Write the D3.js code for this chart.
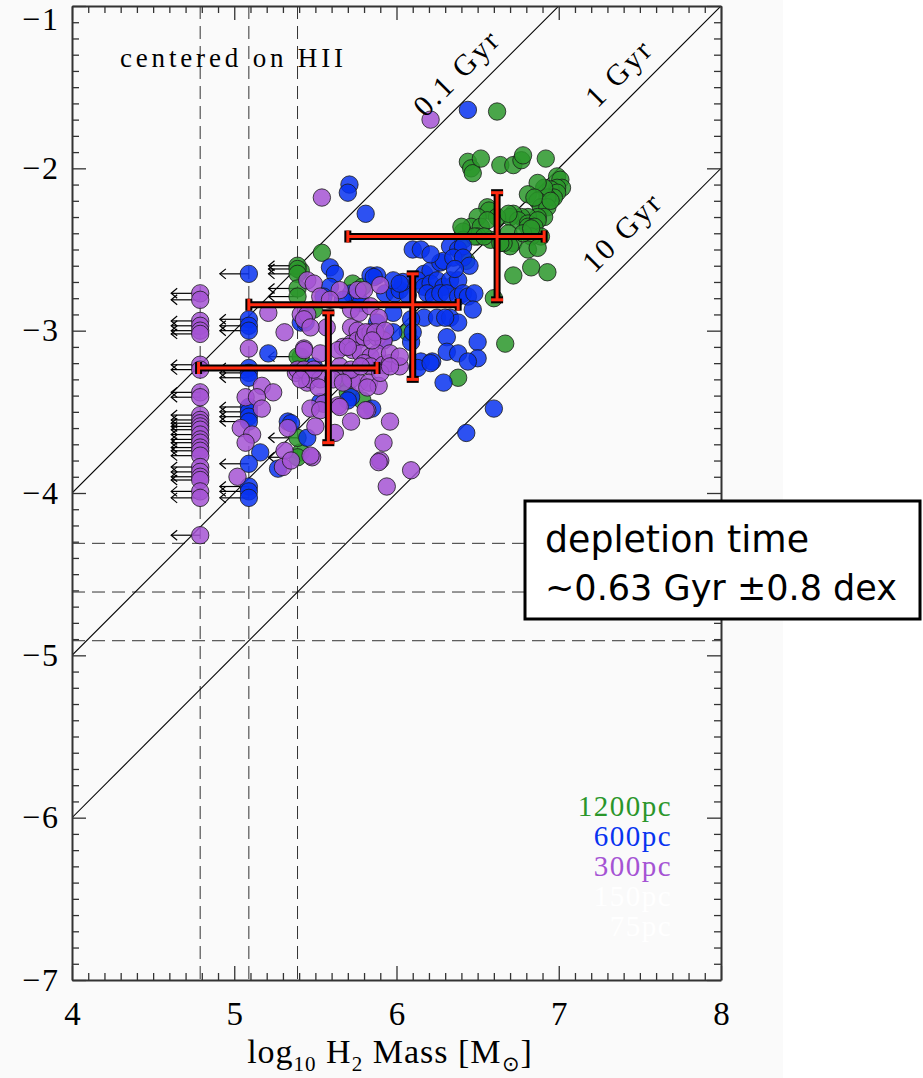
<!DOCTYPE html>
<html>
<head>
<meta charset="utf-8">
<script src="https://cdn.jsdelivr.net/npm/d3@7"></script>
<style>
  body { margin: 0; background: #ffffff; }
  svg { display: block; }
</style>
</head>
<body>
<svg id="chart" width="923" height="1078"></svg>
<script>
// ---- data (log10 H2 mass, log10 SFR) ----
var pts1200 = [
  [6.62,-1.65],[6.44,-1.96],[6.46,-2.00],[6.47,-2.03],[6.52,-1.94],[6.64,-1.98],[6.72,-1.98],[6.77,-1.95],[6.78,-1.92],[6.92,-1.94],
  [6.99,-2.05],[7.01,-2.07],[7.02,-2.12],[6.99,-2.12],[6.95,-2.13],[6.99,-2.15],[6.97,-2.18],[6.93,-2.18],[6.91,-2.12],[6.87,-2.09],
  [6.81,-2.16],[6.87,-2.20],[6.89,-2.24],[6.93,-2.24],[6.91,-2.30],[6.87,-2.30],[6.81,-2.30],[6.77,-2.30],[6.72,-2.28],[6.70,-2.30],
  [6.75,-2.32],[6.56,-2.24],[6.57,-2.26],[6.62,-2.30],[6.69,-2.28],[6.81,-2.34],[6.87,-2.32],[6.50,-2.30],[6.46,-2.36],[6.52,-2.36],
  [6.50,-2.42],[6.56,-2.32],[6.58,-2.44],[6.69,-2.40],[6.72,-2.46],[6.70,-2.48],[6.66,-2.46],[6.81,-2.36],[6.85,-2.36],[6.89,-2.42],
  [6.83,-2.42],[6.81,-2.50],[6.87,-2.49],[6.72,-2.66],[6.83,-2.61],[6.93,-2.64],[6.60,-2.80],[6.41,-2.39],[6.41,-2.44],[6.43,-2.57],
  [6.48,-2.42],[6.54,-2.42],[6.64,-2.46],[6.78,-2.40],[6.83,-2.37],[6.67,-3.08],[6.38,-3.29],[5.54,-2.52],[5.73,-2.71],[5.79,-2.73],
  [5.49,-2.87],[5.67,-3.29],[5.70,-3.38],[5.79,-3.43],[6.07,-3.01],[5.41,-3.16],[5.41,-3.75],[5.41,-2.63],[6.40,-2.36],[6.85,-2.18],
  [6.95,-2.20]
];
var pts600 = [
  [5.71,-2.10],[5.70,-2.15],[5.81,-2.28],[5.59,-2.61],[5.62,-2.65],[5.84,-2.66],[5.88,-2.66],[6.10,-2.50],[6.15,-2.50],[5.59,-2.73],
  [5.41,-2.95],[5.44,-2.95],[5.72,-2.77],[5.76,-2.79],[5.93,-2.77],[5.99,-2.77],[6.02,-2.75],[6.07,-2.78],[6.04,-2.70],[6.17,-2.65],
  [6.21,-2.63],[6.27,-2.58],[6.29,-2.57],[6.33,-2.48],[6.38,-2.50],[6.41,-2.48],[6.35,-2.55],[6.41,-2.55],[6.13,-2.69],[6.17,-2.73],
  [6.21,-2.71],[6.25,-2.69],[6.29,-2.73],[6.33,-2.69],[6.38,-2.69],[6.19,-2.77],[6.23,-2.79],[6.27,-2.77],[6.31,-2.77],[6.38,-2.79],
  [6.41,-2.77],[6.44,-2.79],[6.48,-2.77],[6.17,-2.92],[6.25,-2.92],[6.33,-2.92],[6.38,-2.95],[6.47,-2.87],[6.09,-2.93],[6.09,-3.07],
  [6.31,-3.04],[6.50,-3.07],[6.31,-3.13],[6.38,-3.14],[6.50,-3.17],[6.44,-3.19],[6.15,-3.19],[6.22,-3.19],[6.13,-3.23],[6.29,-3.32],
  [5.98,-2.89],[5.88,-2.95],[5.98,-3.01],[6.10,-3.01],[5.92,-3.06],[5.55,-2.79],[5.67,-2.81],[5.72,-3.41],[5.85,-3.48],[5.45,-3.66],
  [6.60,-3.48],[6.43,-3.63],[5.86,-2.67],[6.21,-3.20],[5.21,-3.14],[5.33,-3.56],[5.16,-3.75],[5.53,-3.44],[5.70,-3.43],[5.35,-3.57],
  [5.27,-3.85],[5.49,-3.22],[6.44,-1.64],[6.21,-2.53],[5.98,-2.69],[6.02,-2.71],[5.78,-2.83],[6.30,-2.92],[6.45,-2.60],[6.36,-2.62]
];
var pts300 = [
  [6.21,-1.70],[5.54,-2.18],[5.21,-2.89],[5.31,-3.01],[5.09,-3.11],[5.43,-3.11],[5.38,-3.26],[5.45,-3.32],[5.17,-3.34],[5.24,-3.38],
  [5.07,-3.41],[5.14,-3.41],[5.17,-3.48],[5.04,-3.60],[5.11,-3.64],[5.07,-3.69],[5.33,-3.60],[5.31,-3.74],[5.30,-3.84],[5.02,-3.90],
  [5.45,-2.69],[5.49,-2.71],[5.41,-2.90],[5.45,-2.90],[5.57,-2.98],[5.65,-2.75],[5.76,-2.75],[5.80,-2.75],[5.90,-2.72],[5.72,-2.98],
  [5.76,-3.00],[5.67,-3.10],[5.72,-3.08],[5.76,-3.06],[5.80,-3.04],[5.84,-3.01],[5.88,-3.04],[5.92,-3.06],[5.64,-3.12],[5.73,-3.12],
  [5.78,-3.14],[5.84,-3.16],[5.88,-3.14],[5.80,-3.20],[5.84,-3.22],[5.92,-3.21],[5.96,-3.20],[6.02,-3.22],[5.53,-3.14],[5.39,-3.24],
  [5.43,-3.24],[5.47,-3.30],[5.53,-3.30],[5.72,-3.30],[5.77,-3.32],[5.83,-3.32],[5.89,-3.34],[5.52,-3.35],[5.55,-3.45],[5.64,-3.46],
  [5.47,-3.48],[5.53,-3.49],[5.72,-3.56],[5.96,-3.56],[5.82,-3.49],[5.92,-3.69],[5.90,-3.80],[6.09,-3.86],[5.48,-3.78],[5.35,-3.80],
  [5.94,-3.96],[5.53,-2.79],[5.59,-2.81],[5.72,-2.87],[5.77,-2.89],[5.84,-2.85],[5.89,-2.92],[5.81,-3.01],[5.87,-3.01],[5.93,-3.00],
  [5.43,-2.93],[5.47,-2.98],[5.70,-3.10],[5.85,-3.06],[5.96,-3.14],[6.02,-3.16],[5.65,-3.22],[5.72,-3.24],[5.78,-3.22],[5.90,-3.26],
  [5.96,-3.22],[5.49,-3.24],[5.61,-3.30],[5.67,-3.32],[5.82,-3.35],[5.43,-3.12],[5.41,-3.30],[5.65,-3.47],[5.81,-3.49],[5.50,-3.59],
  [5.62,-3.63],[5.47,-3.77],[5.89,-3.81]
];

// upper limits in mass (arrows), one column per resolution
var limMass = [5.39, 5.09, 4.79];
var lim1200Y = [-2.60,-2.62,-2.65,-2.74,-2.79,-3.16,-3.66,-3.78];
var lim600Y = [-2.65,-2.93,-2.97,-3.00,-3.23,-3.26,-3.29,-3.47,-3.50,-3.53,-3.56,-3.82,-3.96,-3.99,-4.03];
var lim300Y = [-2.77,-2.81,-2.94,-2.97,-3.00,-3.02,-3.21,-3.24,-3.38,-3.41,-3.52,-3.55,-3.57,-3.59,-3.61,-3.64,
               -3.67,-3.69,-3.72,-3.74,-3.77,-3.84,-3.87,-3.90,-3.92,-3.99,-4.03,-4.26];

// sensitivity limits (dashed)
var sfrLimits = [-4.31, -4.61, -4.91];

// binned medians with scatter
var binX = [5.58, 6.10, 6.62];
var binY = [-3.23, -2.84, -2.42];
var binXlo = [4.78, 5.09, 5.70];
var binXhi = [5.88, 6.38, 6.91];
var binYlo = [-3.69, -3.30, -2.81];
var binYhi = [-2.89, -2.65, -2.15];

// depletion time lines (Gyr)
var tdep = [0.1, 1, 10];
var tdepLabels = ["0.1 Gyr", "1 Gyr", "10 Gyr"];
var tdepLabelX = [6.48, 7.48, 7.50];

var xTicks = [4, 5, 6, 7, 8];
var yTicks = [-1, -2, -3, -4, -5, -6, -7];

var legendNames = ["1200pc", "600pc", "300pc", "150pc", "75pc"];
var legendColors = ["#2a962a", "#0833f0", "#a553d4", "#ffffff", "#ffffff"];

// ---- chart ----
var svg = d3.select("#chart");
var mLeft = 72, mRight = 721, mTop = 6, mBottom = 980;

var x = d3.scaleLinear().domain([4, 8]).range([mLeft, mRight]);
var y = d3.scaleLinear().domain([-7, -1]).range([mBottom, mTop]);

svg.append("rect").attr("width", 923).attr("height", 1078).attr("fill", "#ffffff");
svg.append("rect").attr("width", 783).attr("height", 1078).attr("fill", "#fafafa");

svg.append("clipPath").attr("id", "plotclip")
  .append("rect").attr("x", mLeft).attr("y", mTop)
  .attr("width", mRight - mLeft).attr("height", mBottom - mTop);

var plot = svg.append("g").attr("clip-path", "url(#plotclip)");

// dashed completeness lines
plot.selectAll(".vdash").data(limMass).enter().append("line")
  .attr("x1", d => x(d)).attr("x2", d => x(d))
  .attr("y1", mTop).attr("y2", mBottom)
  .attr("stroke", "#333").attr("stroke-width", 1)
  .attr("stroke-dasharray", "13,7");

plot.selectAll(".hdash").data(sfrLimits).enter().append("line")
  .attr("x1", mLeft).attr("x2", mRight)
  .attr("y1", d => y(d)).attr("y2", d => y(d))
  .attr("stroke", "#333").attr("stroke-width", 1)
  .attr("stroke-dasharray", "13,7");

// constant depletion time lines
plot.selectAll(".tdep").data(tdep).enter().append("line")
  .attr("x1", x(4)).attr("x2", x(8))
  .attr("y1", d => y(4 - 9 - Math.log10(d)))
  .attr("y2", d => y(8 - 9 - Math.log10(d)))
  .attr("stroke", "#000").attr("stroke-width", 1.1);

tdep.forEach(function(t, i) {
  var lx = tdepLabelX[i];
  var px = x(lx), py = y(lx - 9 - Math.log10(t));
  svg.append("text")
    .attr("transform", "translate(" + px + "," + py + ") rotate(-45)")
    .attr("text-anchor", "middle")
    .attr("dy", -15)
    .attr("font-family", "Liberation Serif, serif")
    .attr("font-size", 30)
    .attr("letter-spacing", 2.5)
    .attr("fill", "#000")
    .text(tdepLabels[i]);
});

// points + limit arrows
var series = [
  { pts: pts1200, lim: lim1200Y, limX: limMass[0], color: legendColors[0] },
  { pts: pts600, lim: lim600Y, limX: limMass[1], color: legendColors[1] },
  { pts: pts300, lim: lim300Y, limX: limMass[2], color: legendColors[2] }
];
var r = 8.7;

series.forEach(function(s) {
  var g = plot.append("g");
  s.lim.forEach(function(v) {
    var cx = x(s.limX), cy = y(v), tip = cx - 29;
    g.append("line").attr("x1", cx).attr("x2", tip).attr("y1", cy).attr("y2", cy)
      .attr("stroke", "#000").attr("stroke-width", 1.2);
    g.append("path")
      .attr("d", "M" + (tip + 6) + "," + (cy - 5) + "L" + tip + "," + cy + "L" + (tip + 6) + "," + (cy + 5))
      .attr("fill", "none").attr("stroke", "#000").attr("stroke-width", 1.2);
  });
  var all = s.pts.concat(s.lim.map(function(v) { return [s.limX, v]; }));
  g.selectAll("circle").data(all).enter().append("circle")
    .attr("cx", d => x(d[0])).attr("cy", d => y(d[1]))
    .attr("r", r)
    .attr("fill", s.color).attr("fill-opacity", 0.85)
    .attr("stroke", "#1a1a1a").attr("stroke-opacity", 0.8).attr("stroke-width", 1);
});

// binned error crosses
function bar(x1, y1, x2, y2) {
  plot.append("line").attr("x1", x1).attr("y1", y1).attr("x2", x2).attr("y2", y2)
    .attr("stroke", "#000").attr("stroke-width", 7);
}
function barRed(x1, y1, x2, y2) {
  plot.append("line").attr("x1", x1).attr("y1", y1).attr("x2", x2).attr("y2", y2)
    .attr("stroke", "#ff2a10").attr("stroke-width", 3);
}
binX.forEach(function(bx, i) {
  var cx = x(bx), cy = y(binY[i]);
  var xl = x(binXlo[i]), xh = x(binXhi[i]), yl = y(binYlo[i]), yh = y(binYhi[i]);
  var c = 6;
  var segs = [
    [xl, cy, xh, cy], [cx, yl, cx, yh],
    [xl, cy - c, xl, cy + c], [xh, cy - c, xh, cy + c],
    [cx - c, yl, cx + c, yl], [cx - c, yh, cx + c, yh]
  ];
  segs.forEach(function(sg) { bar(sg[0], sg[1], sg[2], sg[3]); });
  segs.forEach(function(sg) { barRed(sg[0], sg[1], sg[2], sg[3]); });
});

// axes: ticks inward on all four sides
var xMinor = d3.range(40, 81).map(d => d / 10).filter(d => d % 1 !== 0);
var yMinor = d3.range(-70, -9).map(d => d / 10).filter(d => d % 1 !== 0);

function styleAxis(g) {
  g.selectAll("line").attr("stroke", "#333").attr("stroke-width", 1.3);
  g.selectAll(".domain").attr("stroke", "#333").attr("stroke-width", 2);
}

var axB = svg.append("g").attr("transform", "translate(0," + mBottom + ")")
  .call(d3.axisBottom(x).tickValues(xTicks).tickSizeInner(-14).tickSizeOuter(0).tickPadding(22).tickFormat(d3.format("d")));
axB.selectAll("text").attr("font-family", "Liberation Serif, serif").attr("font-size", 33).attr("fill", "#000");
styleAxis(axB);
svg.append("g").attr("transform", "translate(0," + mBottom + ")")
  .call(d3.axisBottom(x).tickValues(xMinor).tickSizeInner(-7).tickSizeOuter(0).tickFormat(""))
  .call(styleAxis).select(".domain").remove();

var axT = svg.append("g").attr("transform", "translate(0," + mTop + ")")
  .call(d3.axisTop(x).tickValues(xTicks).tickSizeInner(-14).tickSizeOuter(0).tickFormat(""));
styleAxis(axT);
svg.append("g").attr("transform", "translate(0," + mTop + ")")
  .call(d3.axisTop(x).tickValues(xMinor).tickSizeInner(-7).tickSizeOuter(0).tickFormat(""))
  .call(styleAxis).select(".domain").remove();

var axL = svg.append("g").attr("transform", "translate(" + mLeft + ",0)")
  .call(d3.axisLeft(y).tickValues(yTicks).tickSizeInner(-14).tickSizeOuter(0).tickPadding(12).tickFormat(d3.format("d")));
axL.selectAll("text").attr("font-family", "Liberation Serif, serif").attr("font-size", 32)
  .attr("letter-spacing", 2).attr("fill", "#000");
axL.selectAll(".tick").filter(d => d === -1).select("text").attr("dy", "0.72em");
styleAxis(axL);
svg.append("g").attr("transform", "translate(" + mLeft + ",0)")
  .call(d3.axisLeft(y).tickValues(yMinor).tickSizeInner(-7).tickSizeOuter(0).tickFormat(""))
  .call(styleAxis).select(".domain").remove();

var axR = svg.append("g").attr("transform", "translate(" + mRight + ",0)")
  .call(d3.axisRight(y).tickValues(yTicks).tickSizeInner(-14).tickSizeOuter(0).tickFormat(""));
styleAxis(axR);
svg.append("g").attr("transform", "translate(" + mRight + ",0)")
  .call(d3.axisRight(y).tickValues(yMinor).tickSizeInner(-7).tickSizeOuter(0).tickFormat(""))
  .call(styleAxis).select(".domain").remove();

// x axis title
var xt = svg.append("text")
  .attr("x", 390).attr("y", 1063)
  .attr("text-anchor", "middle")
  .attr("font-family", "Liberation Serif, serif")
  .attr("font-size", 34)
  .attr("letter-spacing", 1)
  .attr("fill", "#000");
xt.append("tspan").text("log");
xt.append("tspan").attr("font-size", 21).attr("dy", 8).text("10");
xt.append("tspan").attr("dy", -8).text(" H");
xt.append("tspan").attr("font-size", 21).attr("dy", 8).text("2");
xt.append("tspan").attr("dy", -8).text(" Mass [M");
xt.append("tspan").attr("font-size", 21).attr("dy", 8).text("\u2299");
xt.append("tspan").attr("dy", -8).text("]");

// annotation
svg.append("text")
  .attr("x", 120).attr("y", 67)
  .attr("font-family", "Liberation Serif, serif")
  .attr("font-size", 27)
  .attr("textLength", 223).attr("lengthAdjust", "spacing")
  .attr("fill", "#000")
  .text("centered on HII");

// legend
svg.selectAll(".leg").data(legendNames).enter().append("text")
  .attr("x", 672)
  .attr("y", (d, i) => 816 + i * 30)
  .attr("text-anchor", "end")
  .attr("font-family", "Liberation Serif, serif")
  .attr("font-size", 29)
  .attr("letter-spacing", 1.5)
  .attr("fill", (d, i) => legendColors[i])
  .text(d => d);

// depletion time box
svg.append("rect")
  .attr("x", 525).attr("y", 501).attr("width", 395).attr("height", 118)
  .attr("fill", "#ffffff").attr("stroke", "#000").attr("stroke-width", 3);
svg.append("text")
  .attr("x", 545).attr("y", 552)
  .attr("font-family", "DejaVu Sans, sans-serif")
  .attr("font-size", 38)
  .attr("textLength", 264).attr("lengthAdjust", "spacingAndGlyphs")
  .attr("fill", "#000")
  .text("depletion time");
svg.append("text")
  .attr("x", 545).attr("y", 600)
  .attr("font-family", "DejaVu Sans, sans-serif")
  .attr("font-size", 36)
  .attr("textLength", 352).attr("lengthAdjust", "spacingAndGlyphs")
  .attr("fill", "#000")
  .text("~0.63 Gyr \u00b10.8 dex");
</script>
</body>
</html>
